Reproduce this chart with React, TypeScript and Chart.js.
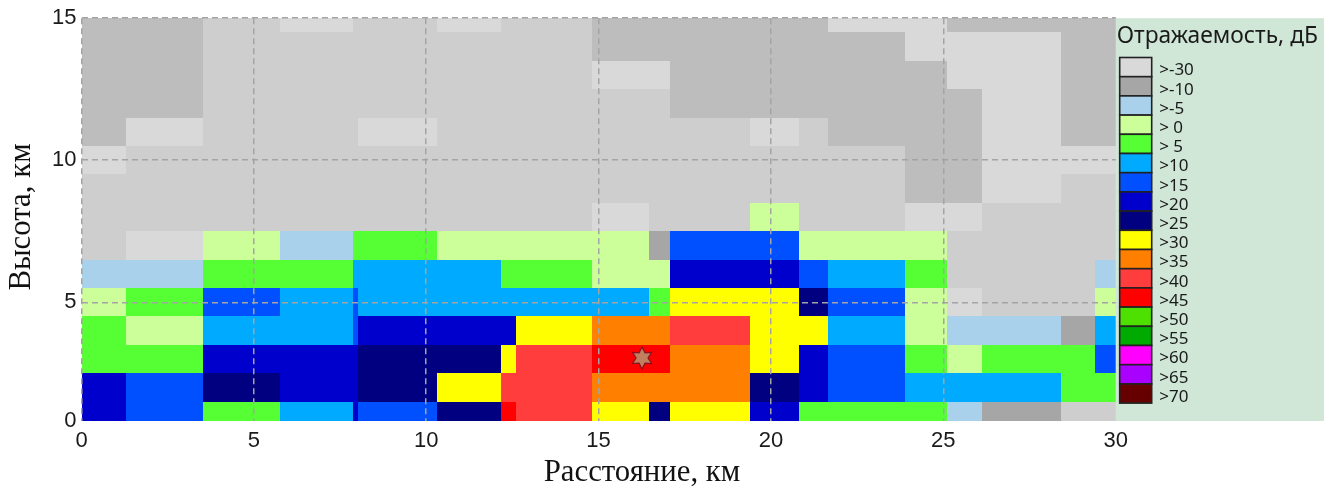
import React, { useEffect, useRef } from "react";
import { Chart, registerables } from "chart.js";

Chart.register(...registerables);

// Column edges (km), row edges (km, top to bottom)
const columnEdges = [0, 1.28, 3.52, 5.76, 7.88, 8.02, 10.31, 12.17, 12.59, 14.81, 16.46, 17.07, 19.38, 20.81, 21.64, 23.9, 25.11, 26.12, 28.41, 29.39, 30];
const rowEdges = [15, 14.5, 13.5, 12.5, 11.5, 10.5, 9.5, 8.5, 7.5, 6.5, 5.5, 4.5, 3.5, 2.5, 1.5, 0.82];

// One letter per column: reflectivity class of each cell
const rowClasses = [
  "KKMLMMLMMKKKKKLLKKKK",
  "KKMMMMMMMKKKKKKLLLKK",
  "KKMMMMMMMLLKKKKKLLKK",
  "KKMMMMMMMMMKKKKKKLKK",
  "KLMMMLMMMMMMLMKKKLKK",
  "LMMMMMMMMMMMMMMKKLLL",
  "MMMMMMMMMMMMMMMKKLMM",
  "MMMMMMMMMLMMCMMLLMMM",
  "MLCBGGCCCCAUUCCCMMMM",
  "BBGGSSSGGCCDDUSGMMMB",
  "CGUSUSSSSSGYYNUCLMMC",
  "GCSSUDDDYOOPYYSCBBAS",
  "GGDDDNNYPRROYDUGCGGU",
  "DUNDDNYPPOOONDUSSSGG",
  "DUGSDUNRPYNYDGGGBAMM",
];

const classColors: Record<string, string> = {
  K: "#bdbdbd", M: "#cecece", L: "#d9d9d9", A: "#a6a6a6", B: "#a9d1eb", C: "#ccff99",
  G: "#55ff33", S: "#00aaff", U: "#0050ff", D: "#0000cc", N: "#000080", Y: "#ffff00",
  O: "#ff8000", P: "#ff3d3d", R: "#ff0000",
};

const legendLabels = [">-30", ">-10", ">-5", "> 0", "> 5", ">10", ">15", ">20", ">25", ">30", ">35", ">40", ">45", ">50", ">55", ">60", ">65", ">70"];
const legendColors = ["#d9d9d9", "#a6a6a6", "#a9d1eb", "#ccff99", "#55ff33", "#00aaff", "#0050ff", "#0000cc", "#000080", "#ffff00", "#ff8000", "#ff3d3d", "#ff0000", "#4de000", "#00aa00", "#ff00ff", "#aa00ff", "#660000"];
const legendTitle = "Отражаемость, дБ";

const xTitle = "Расстояние, км";
const yTitle = "Высота, км";
const yTickValues = [0.82, 5, 10, 15];
const yTickLabels = ["0", "5", "10", "15"];
const stormPoint = [{ x: 16.26, y: 3.04 }];

function makeStar(): HTMLCanvasElement {
  const c = document.createElement("canvas");
  c.width = 24;
  c.height = 24;
  const g = c.getContext("2d")!;
  g.beginPath();
  for (let i = 0; i < 12; i++) {
    const r = i % 2 === 0 ? 11 : 6;
    const a = (Math.PI / 6) * i - Math.PI / 2;
    const px = 12 + r * Math.cos(a);
    const py = 12 + r * Math.sin(a);
    if (i === 0) g.moveTo(px, py);
    else g.lineTo(px, py);
  }
  g.closePath();
  g.fillStyle = "#c08060";
  g.fill();
  g.lineWidth = 1.2;
  g.strokeStyle = "#8a1020";
  g.stroke();
  return c;
}

const heatmapPlugin = {
  id: "heatmap",
  beforeDraw(chart: any) {
    const { ctx, scales, chartArea } = chart;
    const x = scales.x;
    const y = scales.y;
    ctx.save();
    rowClasses.forEach((row, r) => {
      const y0 = Math.round(y.getPixelForValue(rowEdges[r]));
      const y1 = Math.round(y.getPixelForValue(rowEdges[r + 1]));
      row.split("").forEach((cls, c) => {
        const x0 = Math.round(x.getPixelForValue(columnEdges[c]));
        const x1 = Math.round(x.getPixelForValue(columnEdges[c + 1]));
        ctx.fillStyle = classColors[cls];
        ctx.fillRect(x0, y0, x1 - x0, y1 - y0);
      });
    });

    // Legend panel to the right of the plot area
    const panelLeft = chartArea.right;
    ctx.fillStyle = "#d0e7d8";
    ctx.fillRect(panelLeft, chartArea.top, 1324 - panelLeft, chartArea.bottom - chartArea.top);
    ctx.fillStyle = "#1a1a1a";
    ctx.textBaseline = "middle";
    ctx.textAlign = "left";
    ctx.font = '22.8px "Noto Sans"';
    ctx.fillText(legendTitle, panelLeft + 1, 37, 203);
    const step = 19.2;
    const top = 57.5;
    legendColors.forEach((color, i) => {
      const yy = top + i * step;
      ctx.fillStyle = color;
      ctx.fillRect(panelLeft + 4, yy, 32, step);
      ctx.strokeStyle = "#222222";
      ctx.lineWidth = 1.6;
      ctx.strokeRect(panelLeft + 4, yy, 32, step);
      ctx.fillStyle = "#1a1a1a";
      ctx.font = '17px "Noto Sans"';
      ctx.fillText(legendLabels[i], panelLeft + 43.5, yy + step / 2 + 3.5);
    });
    ctx.restore();
  },
  afterDraw(chart: any) {
    const { ctx } = chart;
    ctx.save();
    ctx.fillStyle = "#111111";
    ctx.font = '30.8px "Liberation Serif"';
    ctx.textAlign = "center";
    ctx.textBaseline = "middle";
    ctx.fillText(xTitle, 642, 473);
    ctx.translate(22, 217);
    ctx.rotate(-Math.PI / 2);
    ctx.fillText(yTitle, 0, 0);
    ctx.restore();
  },
};

export default function App() {
  const ref = useRef<HTMLCanvasElement>(null);
  useEffect(() => {
    const chart = new Chart(ref.current!, {
      type: "scatter",
      data: {
        datasets: [
          {
            label: "Центр",
            data: stormPoint,
            pointStyle: makeStar() as any,
            pointRadius: 12,
          },
        ],
      },
      options: {
        animation: false,
        responsive: false,
        layout: { padding: { top: 17, right: 219.3, left: 0, bottom: 0 } },
        plugins: { legend: { display: false }, tooltip: { enabled: false } },
        scales: {
          x: {
            type: "linear",
            min: 0,
            max: 30,
            afterFit: (s: any) => { s.height = 67; },
            border: { display: false, dash: [6, 4] },
            grid: {
              color: (c: any) => (c.tick && c.tick.value === 30 ? "rgba(0,0,0,0)" : "#a4a4a4"),
              drawTicks: false,
              lineWidth: 1.5,
            } as any,
            ticks: {
              stepSize: 5,
              maxRotation: 0,
              padding: 7,
              color: "#1a1a1a",
              font: { family: '"Liberation Sans"', size: 22 },
            },
          },
          y: {
            type: "linear",
            min: yTickValues[0],
            max: 15,
            afterFit: (s: any) => { s.width = 81.5; },
            afterBuildTicks: (s: any) => { s.ticks = yTickValues.map((value) => ({ value })); },
            border: { display: false, dash: [6, 4] },
            grid: {
              color: (c: any) => (c.tick && c.tick.value === yTickValues[0] ? "rgba(0,0,0,0)" : "#a4a4a4"),
              drawTicks: false,
              lineWidth: 1.5,
            },
            ticks: {
              padding: 5,
              color: "#1a1a1a",
              font: { family: '"Liberation Sans"', size: 22 },
              callback: (v: any) => yTickLabels[yTickValues.indexOf(Number(v))] ?? "",
            },
          },
        },
      },
      plugins: [heatmapPlugin],
    } as any);
    return () => chart.destroy();
  }, []);
  return (
    <div style={{ position: "fixed", left: 0, top: 0 }}>
      <canvas ref={ref} width={1335} height={488} style={{ display: "block", width: 1335, height: 488 }} />
    </div>
  );
}
